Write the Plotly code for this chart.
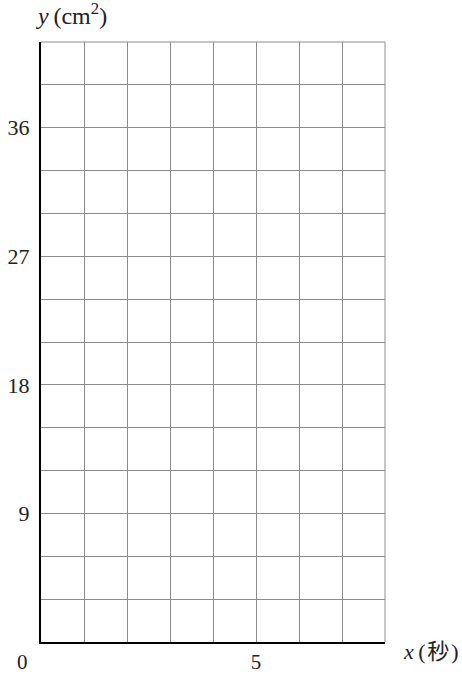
import plotly.graph_objects as go

# grid paper: x in seconds, y in cm^2
x_range = [0, 8]
y_range = [0, 42]
x_minor_step = 1
y_minor_step = 3
x_tickvals = [5]
x_ticktext = ["5"]
y_tickvals = [9, 18, 27, 36]
y_ticktext = ["9", "18", "27", "36"]

serif = "Liberation Serif, DejaVu Serif, serif"
grid_col = "#8c8c8c"
txt_col = "#222"

fig = go.Figure()
# empty trace so the axes show up
fig.add_trace(go.Scatter(x=[], y=[], mode="markers", showlegend=False))

fig.update_xaxes(
    range=x_range, tickvals=x_tickvals, ticktext=x_ticktext,
    showgrid=True, gridcolor=grid_col, gridwidth=1,
    minor=dict(dtick=x_minor_step, showgrid=True, gridcolor=grid_col, gridwidth=1),
    showline=True, linecolor="black", linewidth=2,
    zeroline=False, ticks="", ticklabelstandoff=0, automargin=False,
    tickfont=dict(family=serif, size=21, color=txt_col),
)
fig.update_yaxes(
    range=y_range, tickvals=y_tickvals, ticktext=y_ticktext,
    showgrid=True, gridcolor=grid_col, gridwidth=1,
    minor=dict(dtick=y_minor_step, showgrid=True, gridcolor=grid_col, gridwidth=1),
    showline=True, linecolor="black", linewidth=2,
    zeroline=False, ticks="", ticklabelstandoff=5, automargin=False,
    tickfont=dict(family=serif, size=22, color=txt_col),
)

# top and right edges of the grid paper
fig.add_shape(type="line", xref="x domain", yref="y domain", x0=0, x1=1, y0=1, y1=1,
              line=dict(color=grid_col, width=1))
fig.add_shape(type="line", xref="x domain", yref="y domain", x0=1, x1=1, y0=0, y1=1,
              line=dict(color=grid_col, width=1))

# origin label and axis names
fig.add_annotation(x=0, y=0, xref="x", yref="y", text="0", showarrow=False,
                   xshift=-19, yshift=-20, font=dict(family=serif, size=21, color=txt_col))
fig.add_annotation(x=0, y=y_range[1], xref="x", yref="y",
                   text="<i>y</i>\u2009(cm<sup>2</sup>)", showarrow=False,
                   xanchor="left", xshift=-7, yshift=28,
                   font=dict(family=serif, size=24, color=txt_col))
fig.add_annotation(x=x_range[1], y=0, xref="x", yref="y",
                   text="<i>x</i>\u2009(\u200a秒\u200a)", showarrow=False,
                   xanchor="left", xshift=16, yshift=-9,
                   font=dict(family=serif + ", Noto Sans CJK JP", size=22, color=txt_col))

fig.update_layout(
    width=462, height=674,
    margin=dict(l=41, r=77, t=42, b=32),
    plot_bgcolor="white", paper_bgcolor="white",
)

# drop the page's default body margin so the figure sits at the top-left corner
fig.write_html("out.html", config={"displayModeBar": False},
               post_script="document.body.style.margin='0';")
